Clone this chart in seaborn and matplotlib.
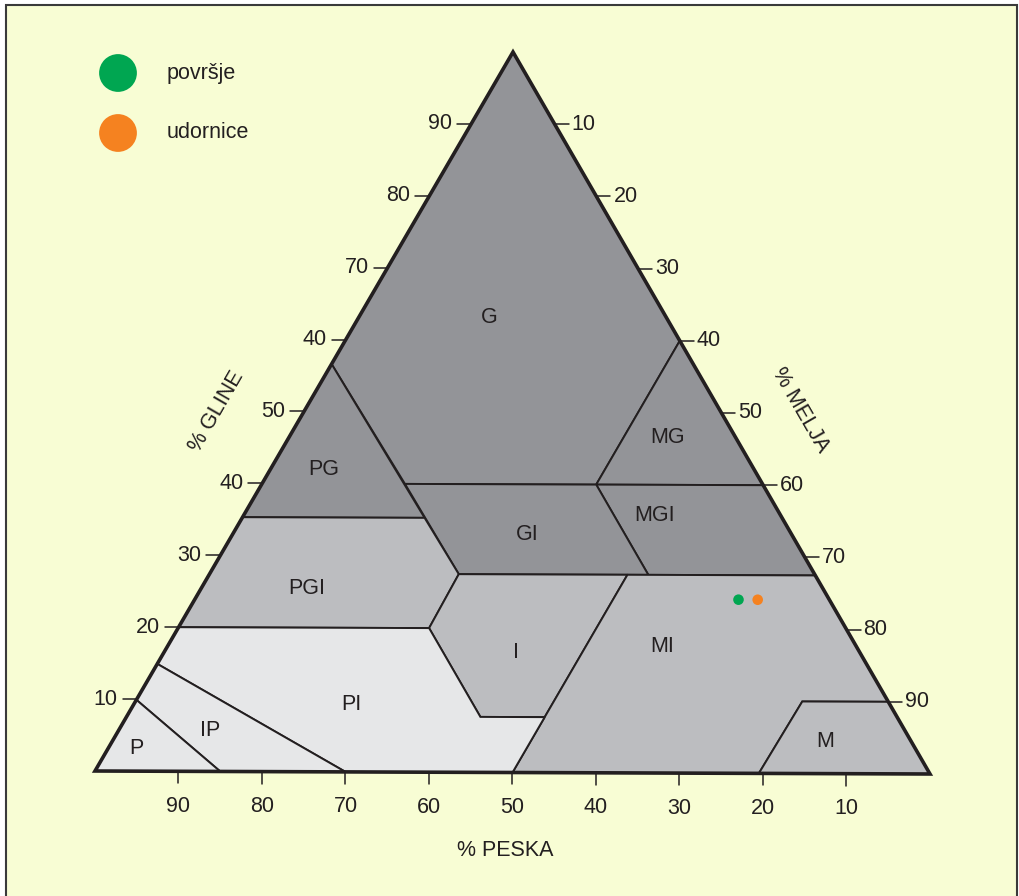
import matplotlib
matplotlib.use("Agg")
import matplotlib.pyplot as plt
import seaborn as sns
import pandas as pd
from matplotlib.patches import Polygon, Rectangle

# soil classes: vertices as (% sand, % clay), silt = rest
class_names = ["G", "MG", "MGI", "GI", "PG", "PGI", "I", "MI", "M", "PI", "IP", "P"]
class_vertices = [
    [(0, 100), (43.4, 56.6), (42.9, 40), (20, 40), (0, 60)],
    [(20, 40), (0, 60), (0, 40)],
    [(20, 40), (0, 40), (0, 27.5), (20, 27.5)],
    [(42.9, 40), (20, 40), (20, 27.5), (42.7, 27.5)],
    [(43.4, 56.6), (42.9, 35.3), (64.7, 35.3)],
    [(64.7, 35.3), (42.9, 35.3), (42.7, 27.5), (50, 20), (80, 20)],
    [(42.7, 27.5), (22.5, 27.5), (42.3, 7.7), (50, 7.7), (50, 20)],
    [(22.5, 27.5), (0, 27.5), (0, 10), (10.3, 10), (20.5, 0), (50, 0), (42.3, 7.7)],
    [(10.3, 10), (0, 10), (0, 0), (20.5, 0)],
    [(80, 20), (50, 20), (50, 7.7), (42.3, 7.7), (50, 0), (70, 0), (85.1, 14.9)],
    [(85.1, 14.9), (70, 0), (85, 0), (90.1, 9.9)],
    [(90.1, 9.9), (85, 0), (100, 0)],
]
class_shade = ["dark", "dark", "dark", "dark", "dark", "mid", "mid", "mid", "mid",
               "light", "light", "light"]
# label anchor of each class (% sand, % clay)
label_pos = [(21.3, 63.1), (8.2, 46.6), (15.1, 35.8), (31.8, 33.0), (51.6, 42.0),
             (61.9, 25.5), (41.3, 16.7), (23.3, 17.6), (10.3, 4.4), (64.7, 9.3),
             (83.4, 5.7), (93.5, 3.1)]

# samples
sample_names = ["površje", "udornice"]
sample_sand = [10.9, 8.6]
sample_clay = [24.1, 24.1]

clay_ticks = [90, 80, 70, 60, 50, 40, 30, 20, 10]
clay_tick_labels = ["90", "80", "70", "40", "50", "40", "30", "20", "10"]
silt_ticks = [10, 20, 30, 40, 50, 60, 70, 80, 90]
sand_ticks = [90, 80, 70, 60, 50, 40, 30, 20, 10]

shades = {"dark": "#939498", "mid": "#bcbdc0", "light": "#e6e7e8"}
ink = "#231f20"
sample_colors = ["#00a651", "#f58220"]

# triangle corners on the canvas (sand 100, silt 100, clay 100)
SAND_C = (95, 771)
SILT_C = (930, 774)
CLAY_C = (513, 52)


def to_xy(sand, clay):
    silt = 100 - sand - clay
    x = (SAND_C[0] * sand + SILT_C[0] * silt + CLAY_C[0] * clay) / 100
    y = (SAND_C[1] * sand + SILT_C[1] * silt + CLAY_C[1] * clay) / 100
    return x, y


sns.set_theme(style="white")
plt.rcParams["font.family"] = ["Liberation Sans", "DejaVu Sans"]
fs = 15.5

fig = plt.figure(figsize=(10.19, 8.96), dpi=100, facecolor="white")
ax = fig.add_axes([0, 0, 1, 1])
ax.set_xlim(0, 1019)
ax.set_ylim(896, 0)
ax.axis("off")

ax.add_patch(Rectangle((6, 5), 1011, 900, facecolor="#f8fdd4",
                       edgecolor="#3a3a3a", lw=1.5, zorder=0))

for name, verts, shade, lp in zip(class_names, class_vertices, class_shade, label_pos):
    pts = [to_xy(s, c) for s, c in verts]
    ax.add_patch(Polygon(pts, closed=True, facecolor=shades[shade],
                         edgecolor=ink, lw=1.4, zorder=1))
    lx, ly = to_xy(*lp)
    ax.text(lx, ly, name, fontsize=fs, color=ink, ha="center", va="center", zorder=3)

outline = [to_xy(100, 0), to_xy(0, 0), to_xy(0, 100)]
ax.add_patch(Polygon(outline, closed=True, fill=False, edgecolor=ink,
                     lw=2.6, joinstyle="miter", zorder=2))

# ticks
for v, lab in zip(clay_ticks, clay_tick_labels):
    x, y = to_xy(100 - v, v)
    ax.plot([x - 14, x], [y, y], color=ink, lw=1.1, zorder=1.5)
    ax.text(x - 19, y, lab, fontsize=fs, color=ink, ha="right", va="center")
for v in silt_ticks:
    x, y = to_xy(0, 100 - v)
    ax.plot([x, x + 14], [y, y], color=ink, lw=1.1, zorder=1.5)
    ax.text(x + 17, y, str(v), fontsize=fs, color=ink, ha="left", va="center")
for v in sand_ticks:
    x, y = to_xy(v, 0)
    ax.plot([x, x], [y, y + 12], color=ink, lw=1.1, zorder=1.5)
    ax.text(x, y + 35, str(v), fontsize=fs, color=ink, ha="center", va="center")

ax.text(217, 411, "% GLINE", fontsize=fs, color=ink, rotation=60,
        ha="center", va="center", rotation_mode="anchor")
ax.text(800, 410, "% MELJA", fontsize=fs, color=ink, rotation=-60,
        ha="center", va="center", rotation_mode="anchor")
ax.text(505, 850, "% PESKA", fontsize=fs, color=ink, ha="center", va="center")

# samples
pts = [to_xy(s, c) for s, c in zip(sample_sand, sample_clay)]
df = pd.DataFrame({"x": [p[0] for p in pts], "y": [p[1] for p in pts],
                   "sample": sample_names})
sns.scatterplot(data=df, x="x", y="y", hue="sample", palette=sample_colors,
                s=58, edgecolor="none", legend=False, ax=ax, zorder=4)

# legend
for i, (name, col) in enumerate(zip(sample_names, sample_colors)):
    ly = 73 + 60 * i
    ax.scatter([118], [ly], s=740, color=col, edgecolor="none", zorder=4)
    ax.text(167, ly, name, fontsize=fs, color=ink, ha="left", va="center")

ax.set_xlim(0, 1019)
ax.set_ylim(896, 0)
fig.savefig("out.png", dpi=100, facecolor="white")
